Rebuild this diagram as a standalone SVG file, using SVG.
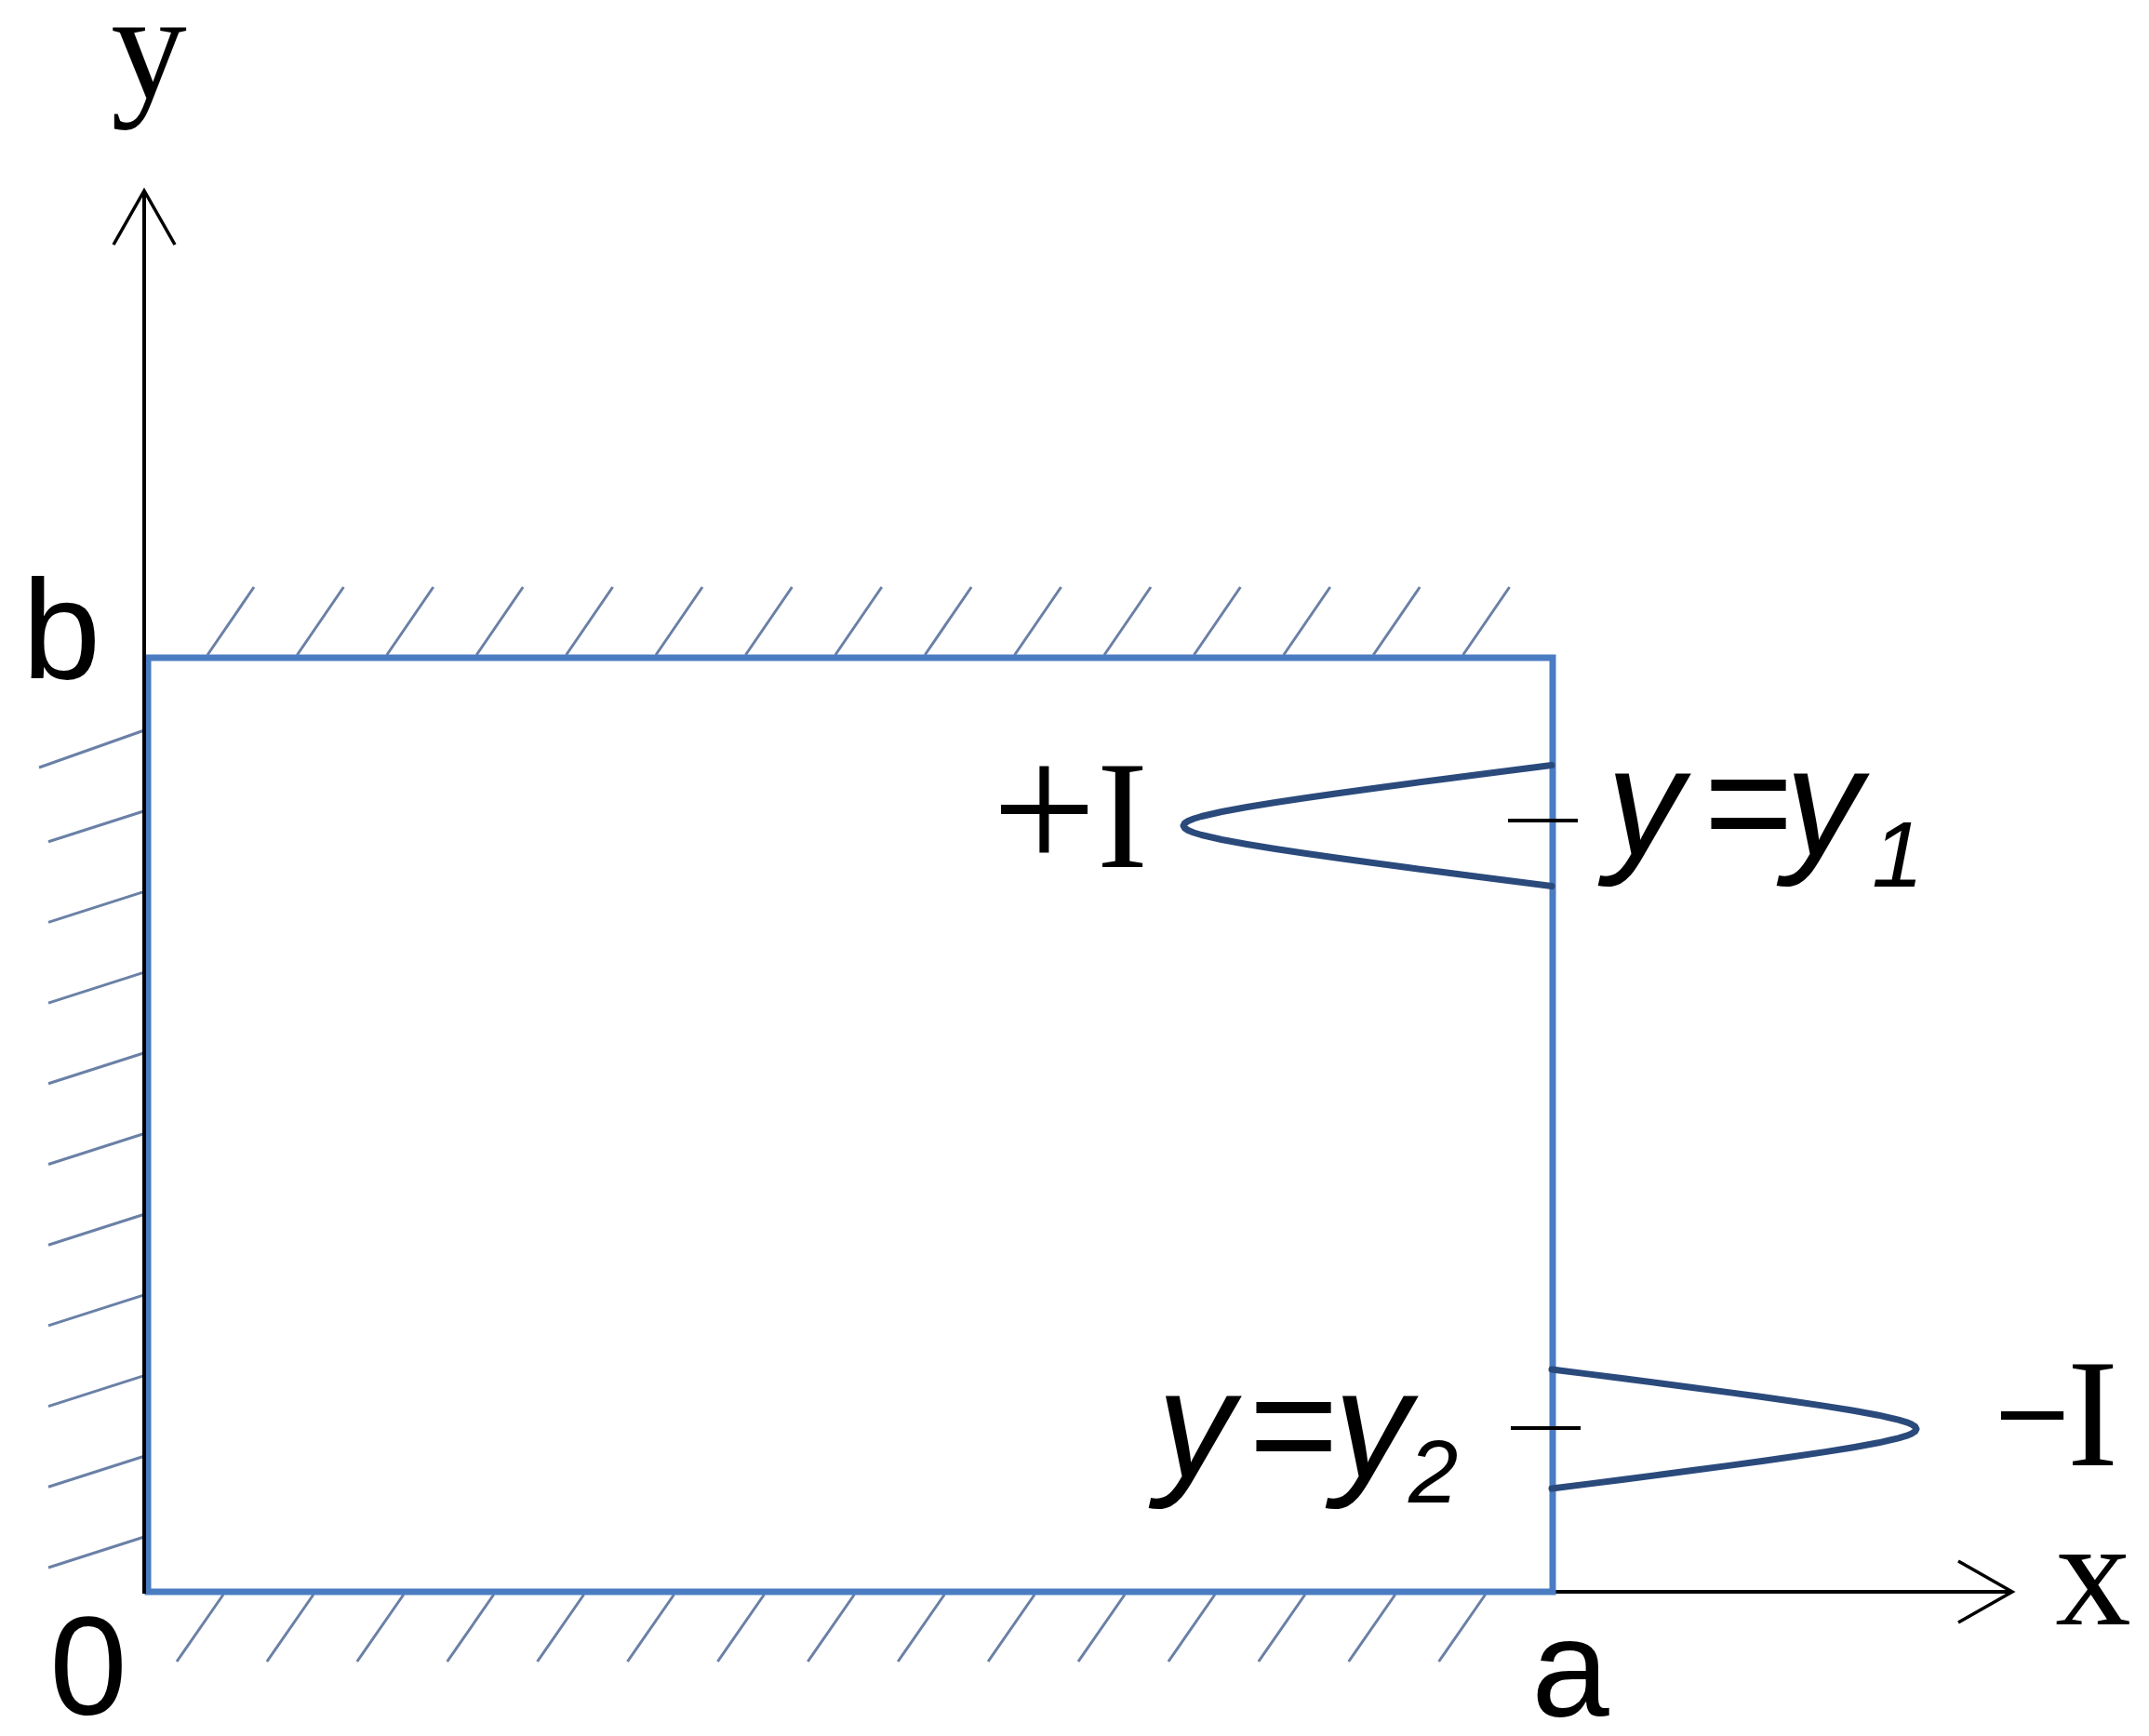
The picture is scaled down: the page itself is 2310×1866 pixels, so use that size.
<svg xmlns="http://www.w3.org/2000/svg" width="2310" height="1866" viewBox="0 0 2310 1866">
<style>
.serif{font-family:"Liberation Serif","Times New Roman",serif;fill:#000}
.sans{font-family:"Liberation Sans",Arial,sans-serif;fill:#000}
.ital{font-family:"Liberation Sans",Arial,sans-serif;font-style:italic;fill:#000}
.hatch{fill:none;stroke:#6a80a6;stroke-width:3;stroke-linecap:butt}
.plate{fill:none;stroke:#4a7cc2;stroke-width:7}
.axis{fill:none;stroke:#000;stroke-width:4}
.tick{fill:none;stroke:#000;stroke-width:4}
.profile{fill:none;stroke:#2b4a7c;stroke-width:7;stroke-linejoin:round;stroke-linecap:round}
</style>
<defs>
<marker id="openArrow" markerUnits="userSpaceOnUse" markerWidth="80" markerHeight="80" viewBox="-70 -40 80 80" refX="0" refY="0" orient="auto" overflow="visible">
<path d="M-58,-33 L0,0 L-58,33" fill="none" stroke="#000" stroke-width="3.5"/>
</marker>
</defs>
<rect width="2310" height="1866" fill="#fff"/>

<g id="hatching">
<path id="hatch-top" class="hatch" d="M223,704 l50,-73 M319.4,704 l50,-73 M415.8,704 l50,-73 M512.2,704 l50,-73 M608.6,704 l50,-73 M705,704 l50,-73 M801.4,704 l50,-73 M897.8,704 l50,-73 M994.2,704 l50,-73 M1090.6,704 l50,-73 M1187,704 l50,-73 M1283.4,704 l50,-73 M1379.8,704 l50,-73 M1476.2,704 l50,-73 M1572.6,704 l50,-73"/>
<path id="hatch-bottom" class="hatch" d="M240,1714 l-50,72 M336.9,1714 l-50,72 M433.8,1714 l-50,72 M530.7,1714 l-50,72 M627.6,1714 l-50,72 M724.5,1714 l-50,72 M821.4,1714 l-50,72 M918.3,1714 l-50,72 M1015.2,1714 l-50,72 M1112.1,1714 l-50,72 M1209,1714 l-50,72 M1305.9,1714 l-50,72 M1402.8,1714 l-50,72 M1499.7,1714 l-50,72 M1596.6,1714 l-50,72"/>
<path id="hatch-left" class="hatch" d="M155,785 L42,825 M155,871.7 l-103,33 M155,958.4 l-103,33 M155,1045.1 l-103,33 M155,1131.8 l-103,33 M155,1218.5 l-103,33 M155,1305.2 l-103,33 M155,1391.9 l-103,33 M155,1478.6 l-103,33 M155,1565.3 l-103,33 M155,1652 l-103,33"/>
</g>

<g id="connectors">
<line id="x-axis" class="axis" x1="155" y1="1711" x2="2163" y2="1711" marker-end="url(#openArrow)"/>
</g>

<g id="plate">
<rect class="plate" x="159" y="707" width="1510" height="1004"/>
</g>

<g id="connectors-y">
<line id="y-axis" class="axis" x1="155" y1="1713" x2="155" y2="205" marker-end="url(#openArrow)"/>
</g>

<g id="source-plus">
<polyline class="profile" points="1668,822.5 1628.8,827.5 1589.8,832.5 1551.3,837.5 1513.3,842.5 1476,847.5 1439.6,852.5 1404.5,857.5 1371.1,862.5 1340.4,867.5 1313.3,872.5 1291.5,877.5 1283.2,880 1277.1,882.5 1273.3,885 1272,887.5 1273.3,890 1277.1,892.5 1283.2,895 1291.5,897.5 1313.3,902.5 1340.4,907.5 1371.1,912.5 1404.5,917.5 1439.6,922.5 1476,927.5 1513.3,932.5 1551.3,937.5 1589.8,942.5 1628.8,947.5 1668,952.5"/>
<line class="tick" x1="1621" y1="882" x2="1696" y2="882"/>
<text class="serif"><tspan x="1066" y="936" font-size="200">+</tspan><tspan x="1179" y="932" font-size="165">I</tspan></text>
<text class="ital" font-size="165"><tspan x="1727" y="919">y</tspan><tspan x="1829" y="919">=</tspan><tspan x="1919" y="919">y</tspan><tspan x="2012" y="953" font-size="100">1</tspan></text>
</g>

<g id="source-minus">
<polyline class="profile" points="1668,1472 1706.8,1476.9 1745.4,1481.8 1783.5,1486.8 1821.2,1491.7 1858.1,1496.6 1894.1,1501.5 1928.9,1506.5 1961.9,1511.4 1992.3,1516.3 2019.2,1521.2 2040.7,1526.2 2048.9,1528.6 2055,1531.1 2058.7,1533.5 2060,1536 2058.7,1538.5 2055,1540.9 2048.9,1543.4 2040.7,1545.8 2019.2,1550.8 1992.3,1555.7 1961.9,1560.6 1928.9,1565.5 1894.1,1570.5 1858.1,1575.4 1821.2,1580.3 1783.5,1585.2 1745.4,1590.2 1706.8,1595.1 1668,1600"/>
<line class="tick" x1="1624" y1="1535" x2="1699" y2="1535"/>
<text class="serif"><tspan x="2145" y="1568" font-size="140" stroke="#000" stroke-width="2">−</tspan><tspan x="2222" y="1575" font-size="165">I</tspan></text>
<text class="ital" font-size="165"><tspan x="1244" y="1588">y</tspan><tspan x="1340" y="1588">=</tspan><tspan x="1434" y="1588">y</tspan><tspan x="1514" y="1615" font-size="96">2</tspan></text>
</g>

<g id="labels">
<text id="label-y" class="serif" x="160" y="105" font-size="163" text-anchor="middle">y</text>
<text id="label-x" class="serif" x="2250" y="1746" font-size="163" text-anchor="middle">x</text>
<text id="label-b" class="sans" x="66" y="729" font-size="152" text-anchor="middle">b</text>
<text id="label-0" class="sans" x="95" y="1843" font-size="150" text-anchor="middle">0</text>
<text id="label-a" class="sans" x="1688" y="1845" font-size="150" text-anchor="middle">a</text>
</g>
</svg>
